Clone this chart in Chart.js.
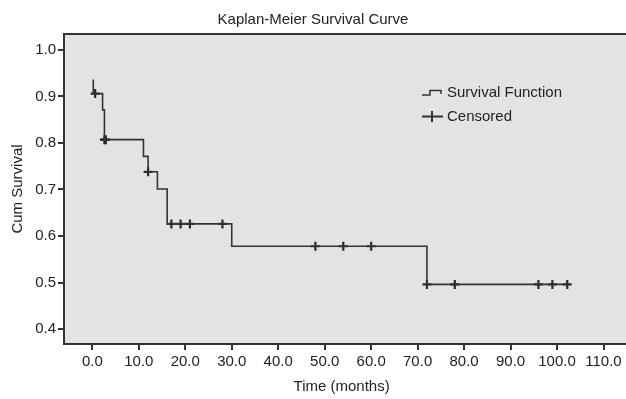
<!DOCTYPE html>
<html>
<head>
    <meta charset="utf-8">
    <script src="https://cdn.jsdelivr.net/npm/chart.js"></script>
    <title>Kaplan-Meier Survival Curve</title>
    <style>
      * {
        margin: 0;
        padding: 0;
      }
      body {
        background: #fff;
      }
    </style>
</head>
<body>
    <canvas id="chart" width="626" height="399"></canvas>
<script>
    // step points of the survival function (time, cum survival)
    const stepTimes = [0.2, 0.2, 2.2, 2.6, 11.0, 12.0, 14.0, 16.1, 30.0, 72.0, 102.2];
    const stepSurvival = [0.936, 0.906, 0.871, 0.807, 0.771, 0.738, 0.701, 0.626, 0.578, 0.496, 0.496];

    // censored cases
    const censoredTimes = [0.6, 2.6, 2.9, 12.0, 17.0, 19.0, 21.0, 28.0, 48.0, 54.0, 60.0, 72.0, 78.0, 96.0, 99.0, 102.2];
    const censoredSurvival = [0.906, 0.807, 0.807, 0.738, 0.626, 0.626, 0.626, 0.626, 0.578, 0.578, 0.578, 0.496, 0.496, 0.496, 0.496, 0.496];

    const xTicks = [0, 10, 20, 30, 40, 50, 60, 70, 80, 90, 100, 110];
    const yTicks = [0.4, 0.5, 0.6, 0.7, 0.8, 0.9, 1.0];

    const legendLabels = ['Survival Function', 'Censored'];

    const ink = '#333333';
    const font = 'Liberation Sans, Arial, sans-serif';

    // grey plot area + frame, and the legend inside it
    const framePlugin = {
        id: 'frame',
        beforeDraw(chart) {
            const {ctx, chartArea: a} = chart;
            ctx.save();
            ctx.fillStyle = '#e3e3e3';
            ctx.fillRect(a.left, a.top, a.right - a.left + 10, a.bottom - a.top);
            ctx.restore();
        },
        afterDraw(chart) {
            const {ctx, chartArea: a} = chart;
            ctx.save();
            ctx.strokeStyle = ink;
            ctx.lineWidth = 2;
            ctx.beginPath();
            ctx.moveTo(a.right + 10, a.top);
            ctx.lineTo(a.left, a.top);
            ctx.lineTo(a.left, a.bottom);
            ctx.lineTo(a.right + 10, a.bottom);
            ctx.stroke();

            // legend
            ctx.strokeStyle = ink;
            ctx.lineWidth = 1.5;
            ctx.beginPath();
            ctx.moveTo(422, 95);
            ctx.lineTo(430, 95);
            ctx.lineTo(430, 90.5);
            ctx.lineTo(441, 90.5);
            ctx.lineTo(441, 94);
            ctx.stroke();

            ctx.lineWidth = 2;
            ctx.beginPath();
            ctx.moveTo(422, 116.5);
            ctx.lineTo(443, 116.5);
            ctx.moveTo(432, 111);
            ctx.lineTo(432, 122);
            ctx.stroke();

            ctx.fillStyle = '#222';
            ctx.font = '15px ' + font;
            ctx.textBaseline = 'middle';
            ctx.fillText(legendLabels[0], 447, 93);
            ctx.fillText(legendLabels[1], 447, 117);
            ctx.restore();
        }
    };

    const config = {
        type: 'scatter',
        data: {
            datasets: [{
                label: legendLabels[0],
                data: stepTimes.map((t, i) => ({x: t, y: stepSurvival[i]})),
                showLine: true,
                stepped: 'before',
                borderColor: '#333',
                borderWidth: 1.6,
                pointRadius: 0
            }, {
                label: legendLabels[1],
                data: censoredTimes.map((t, i) => ({x: t, y: censoredSurvival[i]})),
                showLine: false,
                pointStyle: 'cross',
                pointRadius: 4.5,
                borderColor: '#2a2a2a',
                borderWidth: 2.2
            }]
        },
        options: {
            responsive: false,
            animation: false,
            plugins: {
                legend: { display: false },
                tooltip: { enabled: false },
                title: {
                    display: true,
                    text: 'Kaplan-Meier Survival Curve',
                    color: '#222',
                    font: { family: font, size: 15, weight: 'normal' },
                    padding: { top: 11, bottom: 5 }
                }
            },
            scales: {
                x: {
                    type: 'linear',
                    min: -6.1,
                    max: 113.4,
                    afterBuildTicks(scale) {
                        scale.ticks = xTicks.map(v => ({value: v}));
                    },
                    afterFit(scale) {
                        scale.height = 55;
                    },
                    ticks: {
                        color: '#222',
                        font: { family: font, size: 15 },
                        padding: 3,
                        maxRotation: 0,
                        callback: v => v.toFixed(1)
                    },
                    grid: {
                        drawOnChartArea: false,
                        drawTicks: true,
                        tickLength: 6,
                        color: ink,
                        lineWidth: 2
                    },
                    border: { display: false },
                    title: {
                        display: true,
                        text: 'Time (months)',
                        color: '#222',
                        font: { family: font, size: 15 },
                        padding: { top: 0, bottom: 3 }
                    }
                },
                y: {
                    min: 0.368,
                    max: 1.034,
                    afterBuildTicks(scale) {
                        scale.ticks = yTicks.map(v => ({value: v}));
                    },
                    afterFit(scale) {
                        scale.width = 64;
                    },
                    ticks: {
                        color: '#222',
                        font: { family: font, size: 15 },
                        padding: 2,
                        callback: v => v.toFixed(1)
                    },
                    grid: {
                        drawOnChartArea: false,
                        drawTicks: true,
                        tickLength: 6,
                        color: ink,
                        lineWidth: 2
                    },
                    border: { display: false },
                    title: {
                        display: true,
                        text: 'Cum Survival',
                        color: '#222',
                        font: { family: font, size: 15 },
                        padding: { top: 9, bottom: 0 }
                    }
                }
            }
        },
        plugins: [framePlugin]
    };

    const chart = new Chart(document.getElementById('chart'), config);
</script>
</body>
</html>
